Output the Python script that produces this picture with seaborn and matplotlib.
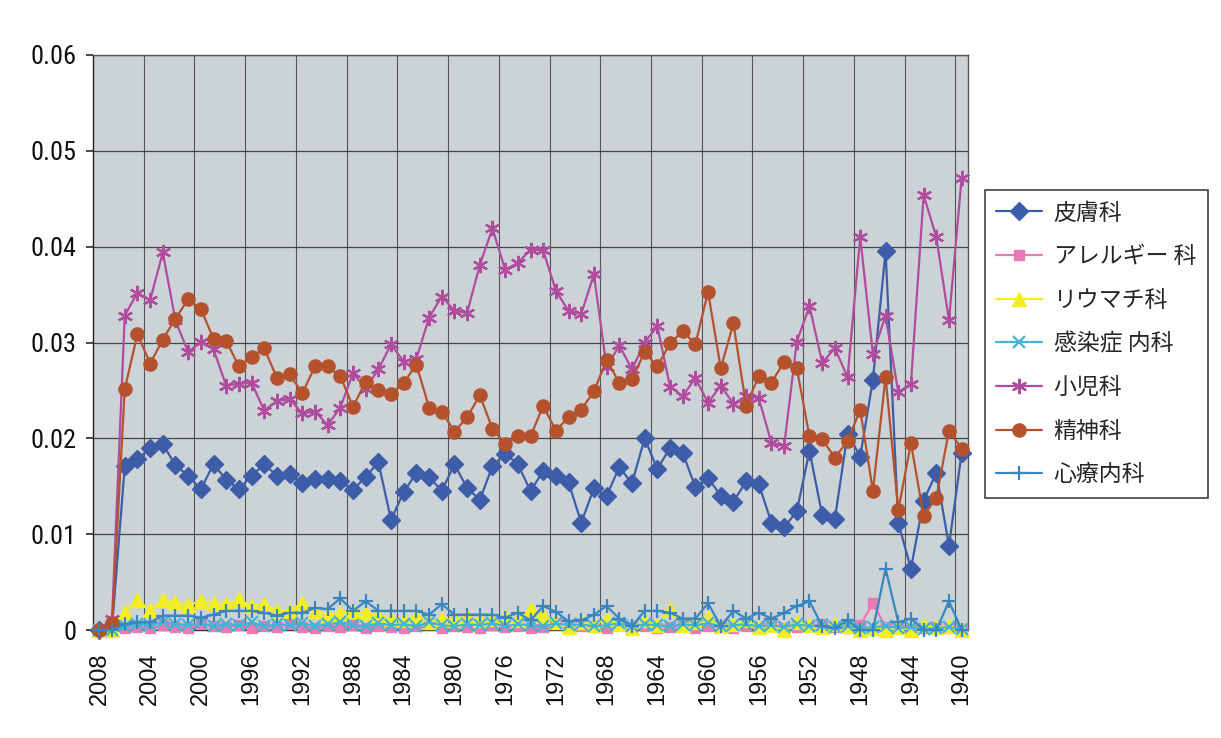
import numpy as np
import pandas as pd
import matplotlib
matplotlib.use("Agg")
import matplotlib.pyplot as plt
from matplotlib.lines import Line2D
from matplotlib import font_manager
import seaborn as sns

# Years on the category axis, newest first
years = list(range(2008, 1939, -1))
tick_years = years[::4]

# 皮膚科
hifu = [0.0000, 0.0003, 0.0171, 0.0178, 0.0190, 0.0194, 0.0172, 0.0161, 0.0147, 0.0173,
        0.0157, 0.0147, 0.0161, 0.0173, 0.0161, 0.0163, 0.0153, 0.0158, 0.0158, 0.0155,
        0.0146, 0.0160, 0.0175, 0.0115, 0.0144, 0.0164, 0.0160, 0.0145, 0.0173, 0.0148,
        0.0136, 0.0171, 0.0184, 0.0173, 0.0145, 0.0166, 0.0161, 0.0154, 0.0112, 0.0148,
        0.0140, 0.0170, 0.0153, 0.0200, 0.0168, 0.0190, 0.0185, 0.0149, 0.0159, 0.0140,
        0.0134, 0.0155, 0.0152, 0.0112, 0.0107, 0.0124, 0.0187, 0.0120, 0.0116, 0.0205,
        0.0181, 0.0261, 0.0395, 0.0112, 0.0064, 0.0135, 0.0164, 0.0088, 0.0185]

# アレルギー科
allergy = [0.0000, 0.0000, 0.0002, 0.0003, 0.0002, 0.0005, 0.0003, 0.0002, 0.0006, 0.0004,
           0.0003, 0.0005, 0.0002, 0.0004, 0.0003, 0.0006, 0.0003, 0.0002, 0.0004, 0.0003,
           0.0005, 0.0002, 0.0004, 0.0003, 0.0002, 0.0004, 0.0006, 0.0002, 0.0004, 0.0003,
           0.0002, 0.0005, 0.0003, 0.0004, 0.0002, 0.0003, 0.0006, 0.0002, 0.0004, 0.0003,
           0.0002, 0.0005, 0.0003, 0.0004, 0.0002, 0.0003, 0.0005, 0.0002, 0.0004, 0.0003,
           0.0002, 0.0004, 0.0003, 0.0005, 0.0002, 0.0003, 0.0004, 0.0006, 0.0003, 0.0002,
           0.0005, 0.0028, 0.0003, 0.0002, 0.0000, 0.0002, 0.0003, 0.0002, 0.0000]

# リウマチ科
rheuma = [0.0000, 0.0000, 0.0019, 0.0031, 0.0021, 0.0031, 0.0029, 0.0026, 0.0030, 0.0028,
          0.0027, 0.0032, 0.0025, 0.0027, 0.0020, 0.0020, 0.0028, 0.0020, 0.0016, 0.0018,
          0.0020, 0.0018, 0.0015, 0.0012, 0.0010, 0.0015, 0.0008, 0.0012, 0.0010, 0.0015,
          0.0010, 0.0012, 0.0015, 0.0010, 0.0022, 0.0015, 0.0008, 0.0003, 0.0008, 0.0005,
          0.0012, 0.0006, 0.0002, 0.0010, 0.0005, 0.0022, 0.0005, 0.0008, 0.0014, 0.0004,
          0.0006, 0.0010, 0.0003, 0.0005, 0.0000, 0.0008, 0.0005, 0.0003, 0.0006, 0.0004,
          0.0000, 0.0002, 0.0000, 0.0003, 0.0000, 0.0005, 0.0003, 0.0004, 0.0000]

# 感染症内科
kansen = [0.0000, 0.0000, 0.0004, 0.0006, 0.0005, 0.0008, 0.0006, 0.0005, 0.0007, 0.0004,
          0.0006, 0.0005, 0.0008, 0.0004, 0.0006, 0.0005, 0.0007, 0.0004, 0.0006, 0.0008,
          0.0005, 0.0004, 0.0007, 0.0005, 0.0006, 0.0004, 0.0008, 0.0005, 0.0004, 0.0006,
          0.0005, 0.0007, 0.0004, 0.0006, 0.0005, 0.0004, 0.0007, 0.0005, 0.0006, 0.0004,
          0.0005, 0.0007, 0.0004, 0.0006, 0.0005, 0.0004, 0.0006, 0.0005, 0.0007, 0.0004,
          0.0005, 0.0006, 0.0004, 0.0005, 0.0003, 0.0006, 0.0004, 0.0005, 0.0003, 0.0004,
          0.0002, 0.0003, 0.0004, 0.0002, 0.0003, 0.0001, 0.0002, 0.0003, 0.0001]

# 小児科
shoni = [0.0000, 0.0012, 0.0328, 0.0352, 0.0344, 0.0394, 0.0323, 0.0290, 0.0301, 0.0293,
         0.0255, 0.0257, 0.0258, 0.0229, 0.0239, 0.0241, 0.0226, 0.0228, 0.0214, 0.0232,
         0.0268, 0.0252, 0.0272, 0.0298, 0.0280, 0.0283, 0.0326, 0.0348, 0.0333, 0.0331,
         0.0381, 0.0419, 0.0376, 0.0383, 0.0397, 0.0396, 0.0354, 0.0333, 0.0330, 0.0371,
         0.0274, 0.0297, 0.0272, 0.0300, 0.0317, 0.0254, 0.0244, 0.0263, 0.0237, 0.0255,
         0.0236, 0.0244, 0.0242, 0.0195, 0.0192, 0.0301, 0.0338, 0.0279, 0.0294, 0.0264,
         0.0410, 0.0288, 0.0328, 0.0248, 0.0257, 0.0454, 0.0410, 0.0323, 0.0472]

# 精神科
seishin = [0.0000, 0.0007, 0.0251, 0.0309, 0.0278, 0.0303, 0.0325, 0.0345, 0.0335, 0.0304,
           0.0302, 0.0275, 0.0285, 0.0294, 0.0263, 0.0267, 0.0247, 0.0275, 0.0275, 0.0265,
           0.0233, 0.0259, 0.0250, 0.0246, 0.0258, 0.0277, 0.0232, 0.0228, 0.0207, 0.0222,
           0.0245, 0.0210, 0.0194, 0.0202, 0.0202, 0.0234, 0.0208, 0.0222, 0.0230, 0.0249,
           0.0282, 0.0258, 0.0262, 0.0290, 0.0275, 0.0299, 0.0312, 0.0298, 0.0353, 0.0273,
           0.0320, 0.0234, 0.0265, 0.0258, 0.0280, 0.0273, 0.0202, 0.0199, 0.0180, 0.0197,
           0.0230, 0.0145, 0.0264, 0.0125, 0.0195, 0.0119, 0.0138, 0.0208, 0.0189]

# 心療内科
shinryo = [0.0000, 0.0000, 0.0006, 0.0008, 0.0008, 0.0015, 0.0015, 0.0015, 0.0013, 0.0016,
           0.0020, 0.0020, 0.0020, 0.0018, 0.0015, 0.0018, 0.0018, 0.0023, 0.0022, 0.0033,
           0.0020, 0.0030, 0.0020, 0.0020, 0.0020, 0.0020, 0.0016, 0.0027, 0.0016, 0.0016,
           0.0016, 0.0016, 0.0013, 0.0018, 0.0010, 0.0025, 0.0019, 0.0009, 0.0010, 0.0016,
           0.0025, 0.0012, 0.0004, 0.0020, 0.0020, 0.0018, 0.0012, 0.0012, 0.0028, 0.0004,
           0.0020, 0.0012, 0.0018, 0.0012, 0.0018, 0.0025, 0.0030, 0.0004, 0.0002, 0.0010,
           0.0000, 0.0000, 0.0064, 0.0008, 0.0012, 0.0000, 0.0000, 0.0030, 0.0000]

series_names = ["皮膚科", "アレルギー 科", "リウマチ科", "感染症 内科", "小児科", "精神科", "心療内科"]
series_values = [hifu, allergy, rheuma, kansen, shoni, seishin, shinryo]
y_tick_labels = ["0", "0.01", "0.02", "0.03", "0.04", "0.05", "0.06"]

# line colour, marker, marker size, marker edge width
styles = [
    ("#3d5da8", "D", 9.0, 1.0),
    ("#e87ab4", "s", 6.5, 1.0),
    ("#f2ee22", "^", 9.5, 1.0),
    ("#44b4d6", "x", 8.0, 1.6),
    ("#b04c9e", (6, 2, 0), 11.0, 1.6),
    ("#b4522e", "o", 9.5, 1.0),
    ("#3a86bd", "+", 10.0, 1.6),
]

sns.set_theme(style="white")
plt.rcParams["font.family"] = ["Noto Sans CJK JP", "DejaVu Sans"]

# condensed face for the value axis when one is available
installed = {f.name for f in font_manager.fontManager.ttflist}
narrow_face = next((n for n in ("Liberation Sans Narrow", "Roboto Condensed",
                                "Open Sans Condensed") if n in installed), None)
if narrow_face:
    ytick_family, ytick_size = [narrow_face, "DejaVu Sans"], 19
else:
    ytick_family, ytick_size = ["Liberation Sans", "DejaVu Sans"], 17

fig = plt.figure(figsize=(12.21, 7.38), dpi=100)
fig.patch.set_facecolor("white")
ax = fig.add_axes([0.0762, 0.1463, 0.7166, 0.7792])
ax.set_facecolor("#cbd3d7")

pos = np.arange(len(years))
handles = []
for z, (name, vals, (color, marker, ms, mew)) in enumerate(zip(series_names, series_values, styles)):
    df = pd.DataFrame({"pos": pos, "value": vals})
    sns.lineplot(data=df, x="pos", y="value", ax=ax, color=color, linewidth=1.6,
                 marker=marker, markersize=ms, markeredgecolor=color,
                 markerfacecolor=color, markeredgewidth=mew,
                 clip_on=False, zorder=3 + z, legend=False)
    handles.append(Line2D([0], [0], color=color, linewidth=1.6, marker=marker,
                          markersize=ms, markeredgecolor=color, markerfacecolor=color,
                          markeredgewidth=mew, label=name))

ax.set_xlim(-0.5, len(years) - 0.5)
ax.set_ylim(0, 0.06)
ax.set_yticks(np.arange(0, 0.0601, 0.01))
ax.set_yticklabels(y_tick_labels, fontfamily=ytick_family, fontsize=ytick_size)
ax.set_xticks([years.index(y) for y in tick_years])
ax.set_xticklabels([str(y) for y in tick_years], rotation=90,
                   fontfamily=["Liberation Sans", "DejaVu Sans"], fontsize=17)
ax.set_xticks(np.arange(3.5, len(years), 4), minor=True)
ax.tick_params(axis="x", which="major", length=0, pad=16, colors="#111111")
ax.tick_params(axis="x", which="minor", length=5, color="#333333", direction="out")
ax.tick_params(axis="y", which="major", length=5, color="#333333", direction="out",
               left=True, pad=7, colors="#111111")
ax.set_xlabel("")
ax.set_ylabel("")

ax.grid(which="major", axis="y", color="#444444", linewidth=0.9)
ax.grid(which="minor", axis="x", color="#555555", linewidth=0.8)
ax.grid(which="major", axis="x", visible=False)
ax.set_axisbelow(True)
for side, sp in ax.spines.items():
    sp.set_color("#555555" if side in ("top", "right") else "#222222")
    sp.set_linewidth(1.0)

leg = fig.legend(handles=handles, loc="upper left", bbox_to_anchor=(0.8067, 0.7425),
                 frameon=True, fancybox=False, edgecolor="#111111", facecolor="white",
                 fontsize=16.5, handlelength=2.0, handletextpad=0.5,
                 labelspacing=0.9, borderpad=0.5, borderaxespad=0)
leg.get_frame().set_linewidth(1.2)

fig.savefig("out.png", dpi=100)
